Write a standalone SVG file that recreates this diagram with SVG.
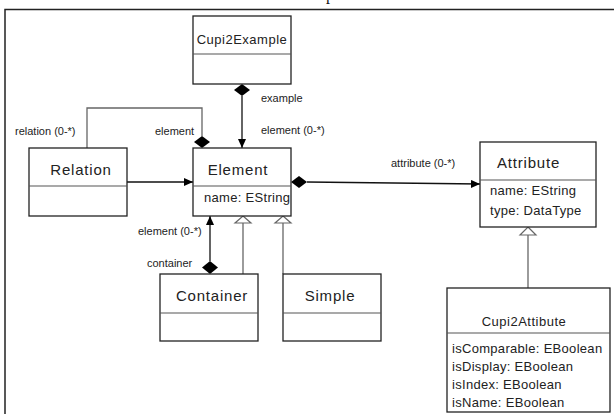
<svg xmlns="http://www.w3.org/2000/svg" width="614" height="414" viewBox="0 0 614 414">
<style>
.box{fill:#fff;stroke:#222;stroke-width:1.3}
.div{stroke:#555;stroke-width:1.2}
.title{font-family:"Liberation Sans",Arial,sans-serif;font-size:15px;letter-spacing:0.8px;fill:#222}
.title13{font-family:"Liberation Sans",Arial,sans-serif;font-size:13px;letter-spacing:0.5px;fill:#222}
.attr{font-family:"Liberation Sans",Arial,sans-serif;font-size:13px;letter-spacing:0.3px;fill:#222}
.lbl{font-family:"Liberation Sans",Arial,sans-serif;font-size:11px;fill:#222}
.assoc{fill:none;stroke:#111;stroke-width:1.3}
.loop{fill:none;stroke:#666;stroke-width:1.3}
.gen{fill:none;stroke:#666;stroke-width:1.3}
.dia{fill:#000;stroke:none}
.tri{fill:#fff;stroke:#666;stroke-width:1.2}
</style>
<defs>
<marker id="arr" markerWidth="9" markerHeight="8" refX="9" refY="4" orient="auto" markerUnits="userSpaceOnUse">
<path d="M0,0 L9,4 L0,8 Z" fill="#000"/>
</marker>
</defs>
<text x="326" y="0" style="font-family:'Liberation Serif',serif;font-size:16px;fill:#111">p</text>
<path d="M5,414 L5,9.5 L614,9.5" fill="none" stroke="#222" stroke-width="1.5"/>

<g id="connectors">
<path class="loop" d="M87,148 L87,108 L202,108 L202,136"/>
<polygon class="dia" points="202,136 210,142 202,148 194,142"/>
<polygon class="dia" points="242,84 250,90 242,96 234,90"/>
<line class="assoc" x1="242" y1="96" x2="242" y2="148" marker-end="url(#arr)"/>
<line class="assoc" x1="127" y1="182" x2="193" y2="182" marker-end="url(#arr)"/>
<polygon class="dia" points="291,182 299,176 307,182 299,188"/>
<line class="assoc" x1="307" y1="182" x2="480" y2="184" marker-end="url(#arr)"/>
<polygon class="dia" points="210,261 218,267.5 210,274 202,267.5"/>
<line class="assoc" x1="210" y1="261" x2="210" y2="216" marker-end="url(#arr)"/>
<line class="gen" x1="243" y1="274" x2="243" y2="223"/>
<polygon class="tri" points="243,216 251,223 235,223"/>
<line class="gen" x1="283" y1="274" x2="283" y2="223"/>
<polygon class="tri" points="283,216 291,223 275,223"/>
<line class="gen" x1="528" y1="288" x2="528" y2="235"/>
<polygon class="tri" points="528,227 536,235 520,235"/>
<text class="lbl" x="261" y="102">example</text>
<text class="lbl" x="261" y="134">element (0-*)</text>
<text class="lbl" x="15" y="135">relation (0-*)</text>
<text class="lbl" x="155" y="135">element</text>
<text class="lbl" x="391" y="167">attribute (0-*)</text>
<text class="lbl" x="138" y="235">element (0-*)</text>
<text class="lbl" x="147" y="267">container</text>
</g>

<g id="Cupi2Example">
<rect class="box" x="193" y="16" width="98" height="68"/>
<line class="div" x1="193" y1="54" x2="291" y2="54"/>
<text class="title13" x="242" y="44" text-anchor="middle">Cupi2Example</text>
</g>

<g id="Relation">
<rect class="box" x="29" y="148" width="98" height="68"/>
<line class="div" x1="29" y1="186" x2="127" y2="186"/>
<text class="title" x="81" y="175" text-anchor="middle">Relation</text>
</g>

<g id="Element">
<rect class="box" x="193" y="148" width="98" height="68"/>
<line class="div" x1="193" y1="186" x2="291" y2="186"/>
<text class="title" x="238" y="175" text-anchor="middle">Element</text>
<text class="attr" x="204" y="202">name: EString</text>
</g>

<g id="Attribute">
<rect class="box" x="480" y="142" width="116" height="85"/>
<line class="div" x1="480" y1="180" x2="596" y2="180"/>
<text class="title" x="497" y="168">Attribute</text>
<text class="attr" x="490" y="195">name: EString</text>
<text class="attr" x="490" y="215">type: DataType</text>
</g>

<g id="Container">
<rect class="box" x="160" y="274" width="98" height="67"/>
<line class="div" x1="160" y1="313" x2="258" y2="313"/>
<text class="title" x="212" y="301" text-anchor="middle">Container</text>
</g>

<g id="Simple">
<rect class="box" x="283" y="274" width="98" height="67"/>
<line class="div" x1="283" y1="313" x2="381" y2="313"/>
<text class="title" x="330" y="301" text-anchor="middle">Simple</text>
</g>

<g id="Cupi2Attibute">
<rect class="box" x="447" y="288" width="163" height="124"/>
<line class="div" x1="447" y1="333" x2="610" y2="333"/>
<text class="title13" x="524" y="326" text-anchor="middle">Cupi2Attibute</text>
<text class="attr" x="452" y="353">isComparable: EBoolean</text>
<text class="attr" x="452" y="371">isDisplay: EBoolean</text>
<text class="attr" x="452" y="389">isIndex: EBoolean</text>
<text class="attr" x="452" y="407">isName: EBoolean</text>
</g>
</svg>
